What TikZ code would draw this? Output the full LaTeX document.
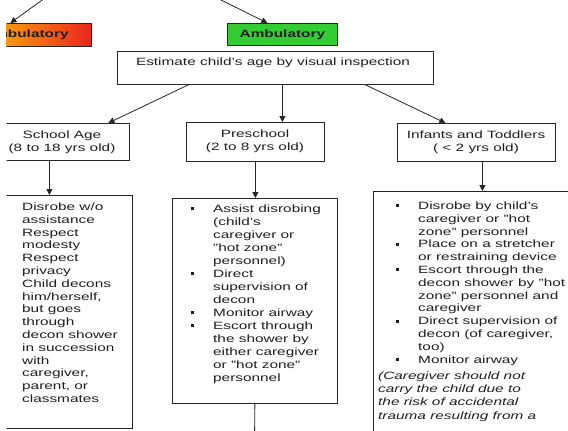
\documentclass[tikz,border=0pt]{standalone}
\usepackage{fontspec}
\setmainfont[FakeStretch=1.45]{Liberation Sans}
\usetikzlibrary{arrows.meta,calc}
\definecolor{ink}{HTML}{1E1E1E}
\definecolor{lineC}{HTML}{262626}
\definecolor{ambG}{HTML}{33CC33}
\definecolor{ambY}{HTML}{FFCC00}
\definecolor{ambR}{HTML}{EA2420}
\newcommand\bl{\makebox[22pt][l]{\rule[2.2pt]{3pt}{3pt}}}
\newcommand\bsp{\makebox[22pt][l]{}}
\begin{document}
\begin{tikzpicture}[x=1pt,y=-1pt,
  font=\fontsize{10.6}{12.8}\selectfont,
  box/.style={draw=lineC, line width=0.8pt, rectangle, inner sep=0pt, anchor=north west},
  conn/.style={draw=lineC, line width=0.8pt},
  arr/.style={conn, -{Triangle[length=6pt,width=6pt]}},
  txt/.style={text=ink, inner sep=0pt},
  boldtxt/.style={txt, font=\fontsize{10.6}{12.8}\selectfont\bfseries}]
\useasboundingbox (0,0) rectangle (568,431);
\clip (6.5,0) rectangle (568,431);

% top boxes
\node[box, left color=ambY, right color=ambR, minimum width=125pt, minimum height=23pt] (amb1) at (-34,23) {};
\node[boldtxt] (amb1t) at ([xshift=-3pt]amb1.center) {Ambulatory};
\node[box, fill=ambG, minimum width=110pt, minimum height=22pt] (amb2) at (227,23) {};
\node[boldtxt] (amb2t) at (amb2.center) {Ambulatory};

\coordinate (tl) at (45,-2);
\coordinate (tr) at (219,-1);
\draw[arr] (tl) -- ([xshift=-18.5pt]amb1.north);
\draw[arr] (tr) -- ([xshift=-15pt]amb2.north);

% estimate
\node[box, minimum width=316pt, minimum height=33pt] (est) at (117,51) {};
\node[txt, anchor=base] (estt) at (273,65.5) {Estimate child's age by visual inspection};

% age boxes
\node[box, minimum width=134pt, minimum height=37pt] (sch) at (-5,123) {};
\node[txt, anchor=base, align=center] (scht) at (62,151.3) {School Age\\(8 to 18 yrs old)};
\node[box, minimum width=138pt, minimum height=39pt] (pre) at (186,122) {};
\node[txt, anchor=base, align=center] (pret) at (255,150.3) {Preschool\\(2 to 8 yrs old)};
\node[box, minimum width=158pt, minimum height=38pt] (inf) at (397,123) {};
\node[txt, anchor=base, align=center] (inft) at (476,151.3) {Infants and Toddlers\\( < 2 yrs old)};

\draw[arr] ([xshift=-87pt]est.south) -- ([xshift=46pt]sch.north);
\draw[arr] ([xshift=7pt]est.south) -- ([xshift=7pt]est.south |- pre.north);
\draw[arr] ([xshift=90pt]est.south) -- ([xshift=-31pt]inf.north);

% detail boxes
\node[box, minimum width=137pt, minimum height=233pt] (dis) at (-5,195) {};
\node[txt, anchor=base west, align=left] (dist) at (22,402.5) {Disrobe w/o\\assistance\\Respect\\modesty\\Respect\\privacy\\Child decons\\him/herself,\\but goes\\through\\decon shower\\in succession\\with\\caregiver,\\parent, or\\classmates};

\node[box, minimum width=165pt, minimum height=205pt] (prel) at (172,198) {};
\node[txt, anchor=base west, align=left, font=\fontsize{10.6}{13}\selectfont] (prelt) at (191,381.5) {\bl Assist disrobing\\\bsp(child's\\\bsp caregiver or\\\bsp"hot zone"\\\bsp personnel)\\\bl Direct\\\bsp supervision of\\\bsp decon\\\bl Monitor airway\\\bl Escort through\\\bsp the shower by\\\bsp either caregiver\\\bsp or "hot zone"\\\bsp personnel};

\node[box, minimum width=240pt, minimum height=300pt] (infl) at (373,191) {};
\node[txt, anchor=base west, align=left] (inflt) at (396,363.1) {\bl Disrobe by child's\\\bsp caregiver or "hot\\\bsp zone" personnel\\\bl Place on a stretcher\\\bsp or restraining device\\\bl Escort through the\\\bsp decon shower by "hot\\\bsp zone" personnel and\\\bsp caregiver\\\bl Direct supervision of\\\bsp decon (of caregiver,\\\bsp too)\\\bl Monitor airway};
\node[txt, anchor=base west, align=left, font=\fontsize{10.6}{13.3}\selectfont\itshape] (infn) at (378,419) {(Caregiver should not\\carry the child due to\\the risk of accidental\\trauma resulting from a};

\draw[arr] ([xshift=-13pt]sch.south) -- ([xshift=-13pt]sch.south |- dis.north);
\draw[arr] (pre.south) -- (pre.south |- prel.north);
\draw[arr] ([xshift=6pt]inf.south) -- ([xshift=6pt]inf.south |- infl.north);
\coordinate (bend) at (254.5,440);
\draw[conn] (prel.south) -- (bend);
\end{tikzpicture}
\end{document}
